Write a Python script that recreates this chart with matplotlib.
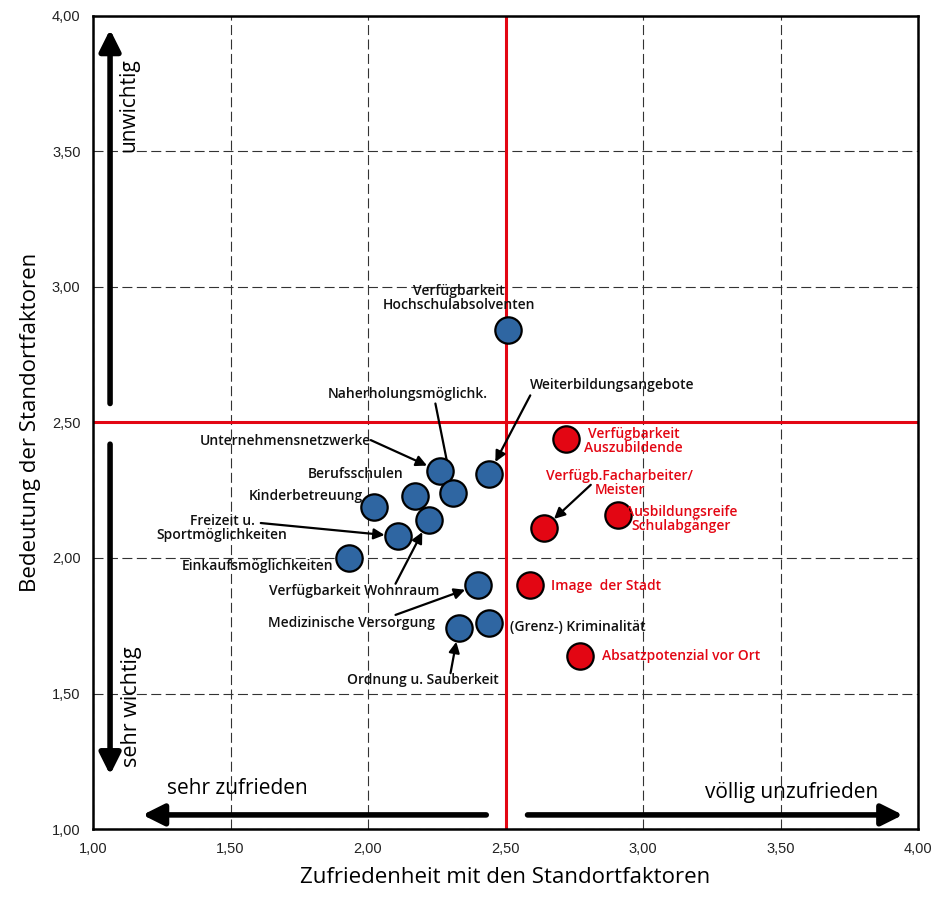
import matplotlib
matplotlib.use('Agg')
import matplotlib.pyplot as plt
from matplotlib.ticker import FuncFormatter

# blue: location factors, red: labour/market factors
blue_names = ['Verfügbarkeit\nHochschulabsolventen', 'Weiterbildungsangebote', 'Unternehmensnetzwerke',
              'Naherholungsmöglichk.', 'Berufsschulen', 'Kinderbetreuung', 'Verfügbarkeit Wohnraum',
              'Freizeit u.\nSportmöglichkeiten', 'Einkaufsmöglichkeiten', 'Medizinische Versorgung',
              '(Grenz-) Kriminalität', 'Ordnung u. Sauberkeit']
blue_x = [2.51, 2.44, 2.26, 2.31, 2.17, 2.02, 2.22, 2.11, 1.93, 2.40, 2.44, 2.33]
blue_y = [2.84, 2.31, 2.32, 2.24, 2.23, 2.19, 2.14, 2.08, 2.00, 1.90, 1.76, 1.74]

red_names = ['Verfügbarkeit\nAuszubildende', 'Verfügb.Facharbeiter/\nMeister',
             'Ausbildungsreife\nSchulabgänger', 'Image  der Stadt', 'Absatzpotenzial vor Ort']
red_x = [2.72, 2.64, 2.91, 2.59, 2.77]
red_y = [2.44, 2.11, 2.16, 1.90, 1.64]

ticks = [1.0, 1.5, 2.0, 2.5, 3.0, 3.5, 4.0]

# label placement: (text x, text y, ha, arrow tail or None)
label_pos = {
    'Verfügbarkeit\nHochschulabsolventen': (2.33, 2.96, 'center', None),
    'Weiterbildungsangebote': (2.59, 2.64, 'left', (2.59, 2.60)),
    'Unternehmensnetzwerke': (2.01, 2.43, 'right', (2.01, 2.435)),
    'Naherholungsmöglichk.': (2.145, 2.605, 'center', (2.245, 2.57)),
    'Berufsschulen': (2.13, 2.31, 'right', None),
    'Kinderbetreuung': (1.98, 2.23, 'right', None),
    'Verfügbarkeit Wohnraum': (1.95, 1.88, 'center', (2.10, 1.905)),
    'Freizeit u.\nSportmöglichkeiten': (1.47, 2.11, 'center', (1.61, 2.129)),
    'Einkaufsmöglichkeiten': (1.875, 1.97, 'right', None),
    'Medizinische Versorgung': (1.94, 1.76, 'center', (2.10, 1.79)),
    '(Grenz-) Kriminalität': (2.515, 1.745, 'left', None),
    'Ordnung u. Sauberkeit': (2.20, 1.55, 'center', (2.30, 1.575)),
    'Verfügbarkeit\nAuszubildende': (2.965, 2.43, 'center', None),
    'Verfügb.Facharbeiter/\nMeister': (2.915, 2.275, 'center', (2.81, 2.27)),
    'Ausbildungsreife\nSchulabgänger': (3.14, 2.145, 'center', None),
    'Image  der Stadt': (2.665, 1.895, 'left', None),
    'Absatzpotenzial vor Ort': (2.85, 1.638, 'left', None),
}

BLUE = '#2f66a2'
RED = '#e30613'
LABEL_FONT = ['Open Sans', 'DejaVu Sans']
TICK_FONT = ['Liberation Sans', 'DejaVu Sans']

fig = plt.figure(figsize=(9.32, 8.97), dpi=100)
ax = fig.add_axes([0.0998, 0.0758, 0.8852, 0.9064])
ax.set_xlim(1, 4)
ax.set_ylim(1, 4)
ax.set_xticks(ticks)
ax.set_yticks(ticks)
fmt = FuncFormatter(lambda v, p: f'{v:.2f}'.replace('.', ','))
ax.xaxis.set_major_formatter(fmt)
ax.yaxis.set_major_formatter(fmt)
for lab in ax.get_xticklabels() + ax.get_yticklabels():
    lab.set_family(TICK_FONT)
    lab.set_fontsize(10.5)
    lab.set_color('#222222')
ax.tick_params(length=0, pad=9)
ax.grid(True, color='#333333', linestyle=(0, (9, 4)), linewidth=0.8)
for s in ax.spines.values():
    s.set_linewidth(1.8)

ax.axvline(2.5, color=RED, lw=2.2, zorder=2)
ax.axhline(2.5, color=RED, lw=2.2, zorder=2)

ax.scatter(blue_x, blue_y, s=360, color=BLUE, edgecolor='black', linewidth=1.6, zorder=4)
ax.scatter(red_x, red_y, s=360, color=RED, edgecolor='black', linewidth=1.6, zorder=4)

for names, xs, ys, col in [(blue_names, blue_x, blue_y, '#111111'), (red_names, red_x, red_y, RED)]:
    for n, px, py in zip(names, xs, ys):
        tx, ty, ha, tail = label_pos[n]
        ax.text(tx, ty, n, ha=ha, va='center', color=col, fontsize=10, family=LABEL_FONT,
                fontweight='semibold', linespacing=1.0, zorder=5)
        if tail is not None:
            # arrow head stops at the marker edge
            dx, dy = px - tail[0], py - tail[1]
            d = (dx ** 2 + dy ** 2) ** 0.5
            ax.annotate('', xy=(px - 0.05 * dx / d, py - 0.05 * dy / d), xytext=tail,
                        arrowprops=dict(arrowstyle='-|>', color='black', lw=1.6, mutation_scale=16,
                                        shrinkA=0, shrinkB=0), zorder=3)

# big direction arrows
big = dict(arrowstyle='-|>', color='black', lw=4, mutation_scale=32, shrinkA=0, shrinkB=0)
ax.annotate('', xy=(1.062, 3.95), xytext=(1.062, 2.57), arrowprops=big, zorder=3)
ax.annotate('', xy=(1.062, 1.2), xytext=(1.062, 2.42), arrowprops=big, zorder=3)
ax.annotate('', xy=(1.18, 1.052), xytext=(2.43, 1.052), arrowprops=big, zorder=3)
ax.annotate('', xy=(3.945, 1.052), xytext=(2.58, 1.052), arrowprops=big, zorder=3)

ax.text(1.13, 3.67, 'unwichtig', rotation=90, ha='center', va='center', fontsize=15, family=LABEL_FONT)
ax.text(1.14, 1.45, 'sehr wichtig', rotation=90, ha='center', va='center', fontsize=15.5, family=LABEL_FONT)
ax.text(1.524, 1.148, 'sehr zufrieden', ha='center', va='center', fontsize=15, family=LABEL_FONT)
ax.text(3.54, 1.133, 'völlig unzufrieden', ha='center', va='center', fontsize=15, family=LABEL_FONT)

ax.set_xlabel('Zufriedenheit mit den Standortfaktoren', fontsize=16, family=LABEL_FONT, labelpad=8)
ax.set_ylabel('Bedeutung der Standortfaktoren', fontsize=16, family=LABEL_FONT, labelpad=8)

fig.savefig('out.png', dpi=100)
